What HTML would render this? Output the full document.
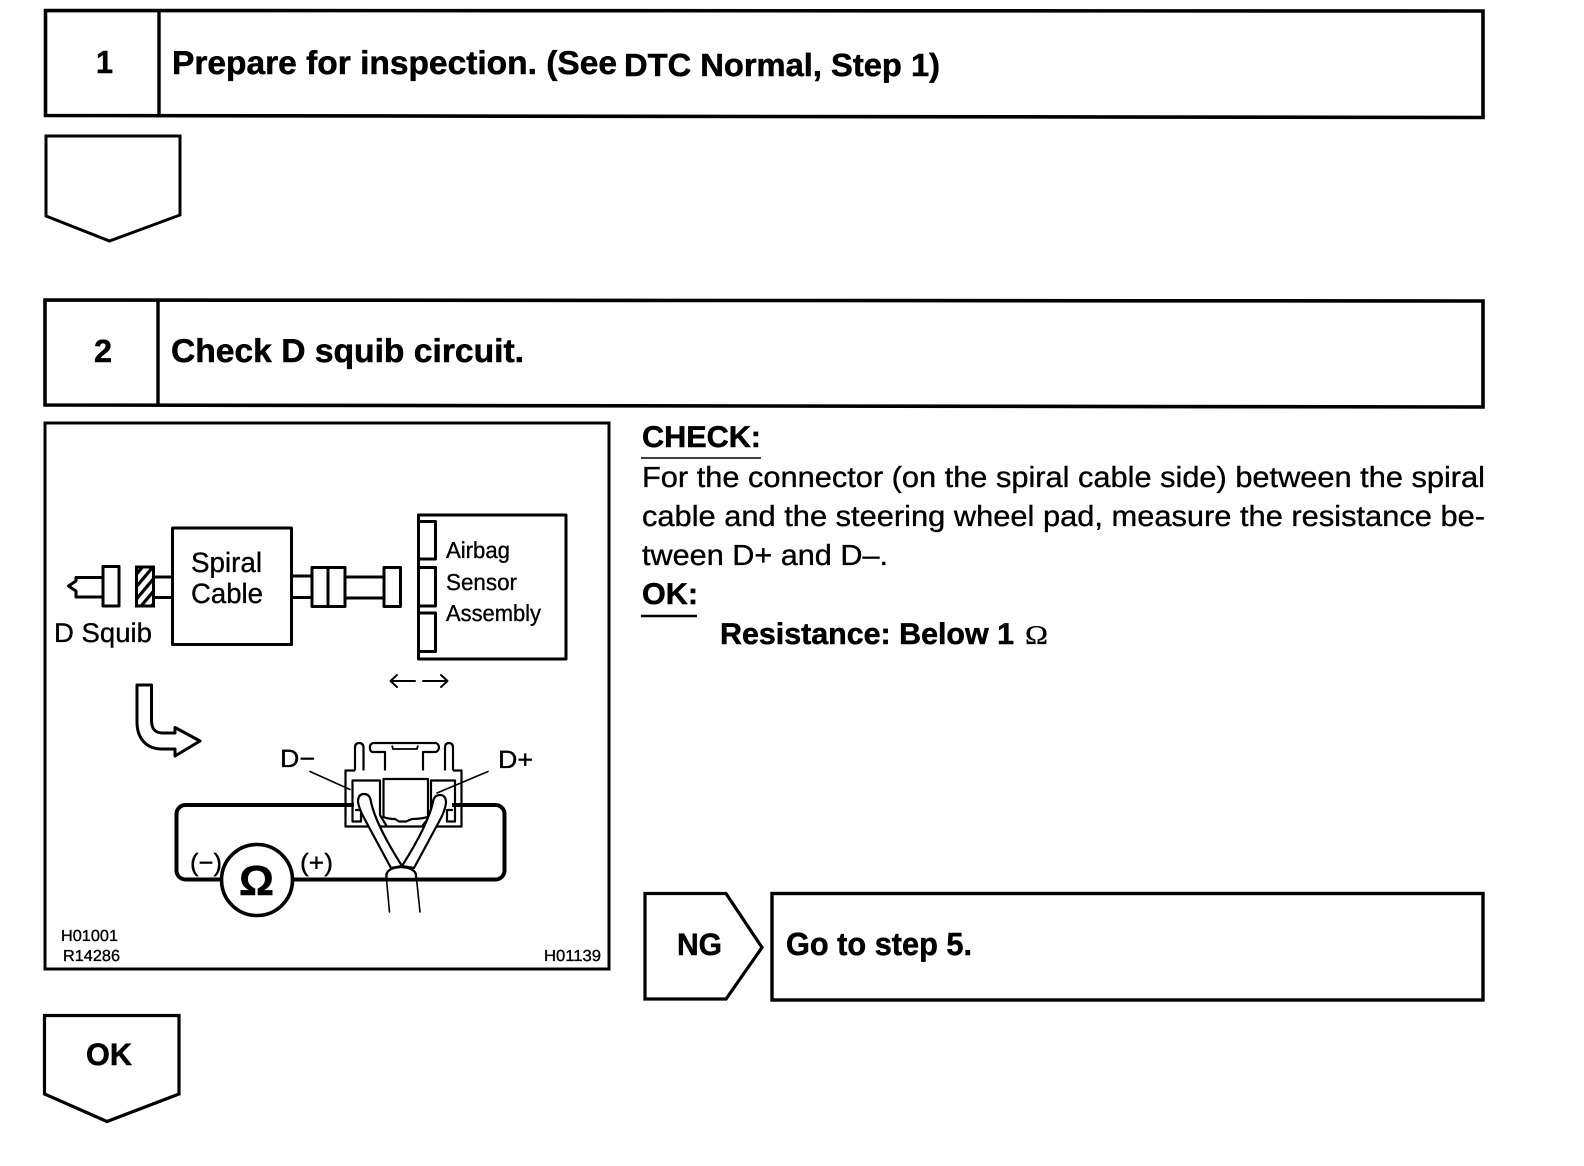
<!DOCTYPE html>
<html><head><meta charset="utf-8"><title>Check D squib circuit</title>
<style>
html,body{margin:0;padding:0;background:#fff}
svg{display:block}
text{font-family:"Liberation Sans",Arial,sans-serif;fill:#000;stroke:#000;stroke-width:.35;text-rendering:geometricPrecision}
.b{font-weight:bold;stroke-width:.5}
.s{fill:none;stroke:#000;stroke-width:3;stroke-linejoin:round;stroke-linecap:round}
.t{fill:none;stroke:#000;stroke-width:1.6;stroke-linejoin:round;stroke-linecap:round}
.wt{fill:#fff;stroke:#000;stroke-width:2.2;stroke-linejoin:round}
</style></head><body>
<svg xmlns="http://www.w3.org/2000/svg" width="1584" height="1166" viewBox="0 0 1584 1166">
<defs>
<pattern id="h" width="8" height="8" patternUnits="userSpaceOnUse" patternTransform="rotate(-50)"><rect width="8" height="8" fill="#fff"/><rect width="8" height="3.2" fill="#000"/></pattern>
</defs>

<!-- Step 1 -->
<path d="M45.5 10.5 L1483 11 L1483 117.5 L45.5 115.5 Z" fill="none" stroke="#000" stroke-width="3.6"/>
<line x1="159" y1="10" x2="159" y2="116" stroke="#000" stroke-width="3.4"/>
<text class="b" x="96" y="73" font-size="32" textLength="17" lengthAdjust="spacingAndGlyphs">1</text>
<text class="b" x="172" y="74" font-size="33" textLength="445" lengthAdjust="spacingAndGlyphs">Prepare for inspection. (See</text>
<text class="b" x="624" y="76" font-size="32" textLength="316" lengthAdjust="spacingAndGlyphs">DTC Normal, Step 1)</text>
<polygon points="46,136 180,136 180,215 109.5,241 46,216" fill="none" stroke="#000" stroke-width="3"/>

<!-- Step 2 -->
<path d="M45 300 L1483 301 L1483 407 L45 405 Z" fill="none" stroke="#000" stroke-width="3.6"/>
<line x1="158" y1="300" x2="158" y2="405" stroke="#000" stroke-width="3.4"/>
<text class="b" x="94" y="362" font-size="32" textLength="18" lengthAdjust="spacingAndGlyphs">2</text>
<text class="b" x="171" y="362" font-size="33" textLength="353" lengthAdjust="spacingAndGlyphs">Check D squib circuit.</text>

<!-- Figure frame -->
<rect x="45" y="423" width="564" height="546" fill="none" stroke="#000" stroke-width="3"/>
<text x="61" y="941" font-size="16" textLength="57" lengthAdjust="spacingAndGlyphs">H01001</text>
<text x="63" y="961" font-size="16" textLength="57" lengthAdjust="spacingAndGlyphs">R14286</text>
<text x="544" y="961" font-size="16" textLength="57" lengthAdjust="spacingAndGlyphs">H01139</text>

<!-- Upper schematic -->
<path class="s" d="M102 577.5 H76 V581 L68.5 586 L76 591 V597 H102"/>
<rect class="s" x="103" y="566.5" width="16" height="39.5"/>
<rect x="136.5" y="567" width="17" height="39" fill="url(#h)" stroke="#000" stroke-width="3"/>
<path class="s" d="M154 577 H172 M154 597.5 H172"/>
<rect class="s" x="172.5" y="528" width="119" height="116.5"/>
<text x="191" y="572" font-size="28" textLength="71" lengthAdjust="spacingAndGlyphs">Spiral</text>
<text x="191" y="603" font-size="28" textLength="72" lengthAdjust="spacingAndGlyphs">Cable</text>
<text x="54" y="642" font-size="27" textLength="98" lengthAdjust="spacingAndGlyphs">D Squib</text>
<path class="s" d="M292 576 H312 M292 597.5 H312 M345 577 H384 M345 598 H384"/>
<rect class="s" x="312" y="567.5" width="33" height="39"/>
<line class="s" x1="328" y1="567.5" x2="328" y2="606.5"/>
<rect class="s" x="384" y="567.5" width="16.5" height="39"/>
<rect class="s" x="418.5" y="515" width="147.5" height="144"/>
<path class="s" d="M419 521.5 H435.5 V559 H419 M419 567.5 H435.5 V606 H419 M419 613 H435.5 V651.5 H419"/>
<text x="446" y="558" font-size="23" textLength="64" lengthAdjust="spacingAndGlyphs">Airbag</text>
<text x="446" y="590" font-size="23" textLength="71" lengthAdjust="spacingAndGlyphs">Sensor</text>
<text x="446" y="621" font-size="23" textLength="95" lengthAdjust="spacingAndGlyphs">Assembly</text>
<path class="t" style="stroke-width:2" d="M390.5 681 H415 M397 675 L390.5 681 L397 687 M423 681 H447.5 M441 675 L447.5 681 L441 687"/>

<!-- Bent arrow -->
<path class="s" d="M137 685 H151.5 V720 C151.5 729 155 733 163 733 H175 V727.5 L200 741 L175 756 V749 H162 C146 749 137 738 137 722 Z"/>

<!-- Meter loop -->
<rect x="176.5" y="805" width="328" height="74.5" rx="9" fill="none" stroke="#000" stroke-width="4"/>
<circle cx="257" cy="880" r="35.5" fill="#fff" stroke="#000" stroke-width="3.6"/>
<text class="b" x="239" y="895" font-size="42" textLength="35" lengthAdjust="spacingAndGlyphs">Ω</text>
<text x="190" y="871" font-size="25" textLength="32" lengthAdjust="spacingAndGlyphs">(−)</text>
<text x="300" y="871" font-size="25" textLength="33" lengthAdjust="spacingAndGlyphs">(+)</text>
<text x="280" y="767" font-size="25" textLength="35" lengthAdjust="spacingAndGlyphs">D−</text>
<text x="498" y="768" font-size="25" textLength="35" lengthAdjust="spacingAndGlyphs">D+</text>

<!-- Connector -->
<rect x="345.5" y="770" width="116" height="57" fill="#fff" stroke="none"/>
<path class="wt" d="M355 774 V748 Q355 743 359 743 Q363.5 743 363.5 748 V775 Z"/>
<path class="wt" d="M445 775 V748 Q445 743 449 743 Q453 743 453 748 V774 Z"/>
<path class="wt" d="M385 752 H372 Q369.5 751 370 746 Q371 743 374 743 H436 Q439 744 439 748 Q438 752 435 752 H423 V776 H385 Z"/>
<path d="M392 745.5 L393 749 H417 L418 745.5" fill="none" stroke="#000" stroke-width="1.8"/>
<!-- thick shoulders -->
<path d="M363 773.5 H387 M421 773.5 H445 M380 778.5 H431" fill="none" stroke="#000" stroke-width="4.5"/>
<!-- outer body -->
<path class="wt" d="M355 770.5 H345.5 V826.5 H461.5 V770.5 H453"/>
<!-- inner walls -->
<path class="t" style="stroke-width:2.2" d="M352.5 781 V821.5 H361 V810 H356 M352.5 780.5 H380 V815 L386 825 M455 780.5 H431 V815 L423 825 M455 780.5 V821.5 H447 V810 H452"/>
<path class="wt" d="M383.5 779 H428 V817 Q420 819 412 819 L406 821.5 L399 821.5 L395 819 Q388 819 383.5 817 Z"/>
<path d="M345 805 H354 M452 805 H462" fill="none" stroke="#000" stroke-width="4"/>
<line class="t" x1="310" y1="771.5" x2="350" y2="789.5"/>
<line class="t" x1="488" y1="771.5" x2="437" y2="793"/>

<!-- Leads -->
<path class="wt" d="M358 802 Q358 794 364 794 Q370 794 371 802 Q376 825 402 866 L391 868 L363 816 Q359 808 358 802 Z"/>
<path class="wt" d="M446 803 Q446 795 440 795 Q434 795 433 802 Q428 825 402 866 L414 868 L441 818 Q445 810 446 803 Z"/>
<path class="wt" d="M386.5 875 Q387 868 401 867 Q415 868 416 875 L416 880 H386.5 Z"/>
<path class="t" d="M386 874 L389.5 912 M416 874 L420 912"/>
<line x1="376" y1="879.5" x2="430" y2="879.5" stroke="#000" stroke-width="3.4"/>

<!-- Right text -->
<text class="b" x="642" y="447" font-size="30" textLength="119" lengthAdjust="spacingAndGlyphs">CHECK:</text>
<line x1="641" y1="458" x2="761" y2="458" stroke="#000" stroke-width="1.6"/>
<text x="642" y="487" font-size="29" textLength="843" lengthAdjust="spacingAndGlyphs">For the connector (on the spiral cable side) between the spiral</text>
<text x="642" y="526" font-size="29" textLength="843" lengthAdjust="spacingAndGlyphs">cable and the steering wheel pad, measure the resistance be-</text>
<text x="642" y="565" font-size="29" textLength="246" lengthAdjust="spacingAndGlyphs">tween D+ and D–.</text>
<text class="b" x="642" y="604" font-size="30" textLength="56" lengthAdjust="spacingAndGlyphs">OK:</text>
<line x1="641" y1="616" x2="697" y2="616" stroke="#000" stroke-width="2.4"/>
<text class="b" x="720" y="644" font-size="30" textLength="294" lengthAdjust="spacingAndGlyphs">Resistance: Below 1</text>
<text x="1025" y="644" font-size="27" textLength="23" lengthAdjust="spacingAndGlyphs" style="font-family:'Liberation Serif',serif">Ω</text>

<!-- NG -->
<polygon points="645,893.5 726,893.5 762,947.5 726,999 645,999" fill="none" stroke="#000" stroke-width="3.2"/>
<text class="b" x="677" y="955" font-size="31" textLength="45" lengthAdjust="spacingAndGlyphs">NG</text>
<rect x="772" y="893.5" width="711" height="106.5" fill="none" stroke="#000" stroke-width="3.4"/>
<text class="b" x="786" y="955" font-size="32" textLength="186" lengthAdjust="spacingAndGlyphs">Go to step 5.</text>

<!-- OK -->
<polygon points="44.5,1015.5 179,1015.5 179,1094 107,1121.5 44.5,1094" fill="none" stroke="#000" stroke-width="3.2"/>
<text class="b" x="86" y="1065" font-size="31" textLength="46" lengthAdjust="spacingAndGlyphs">OK</text>
</svg>
</body></html>
